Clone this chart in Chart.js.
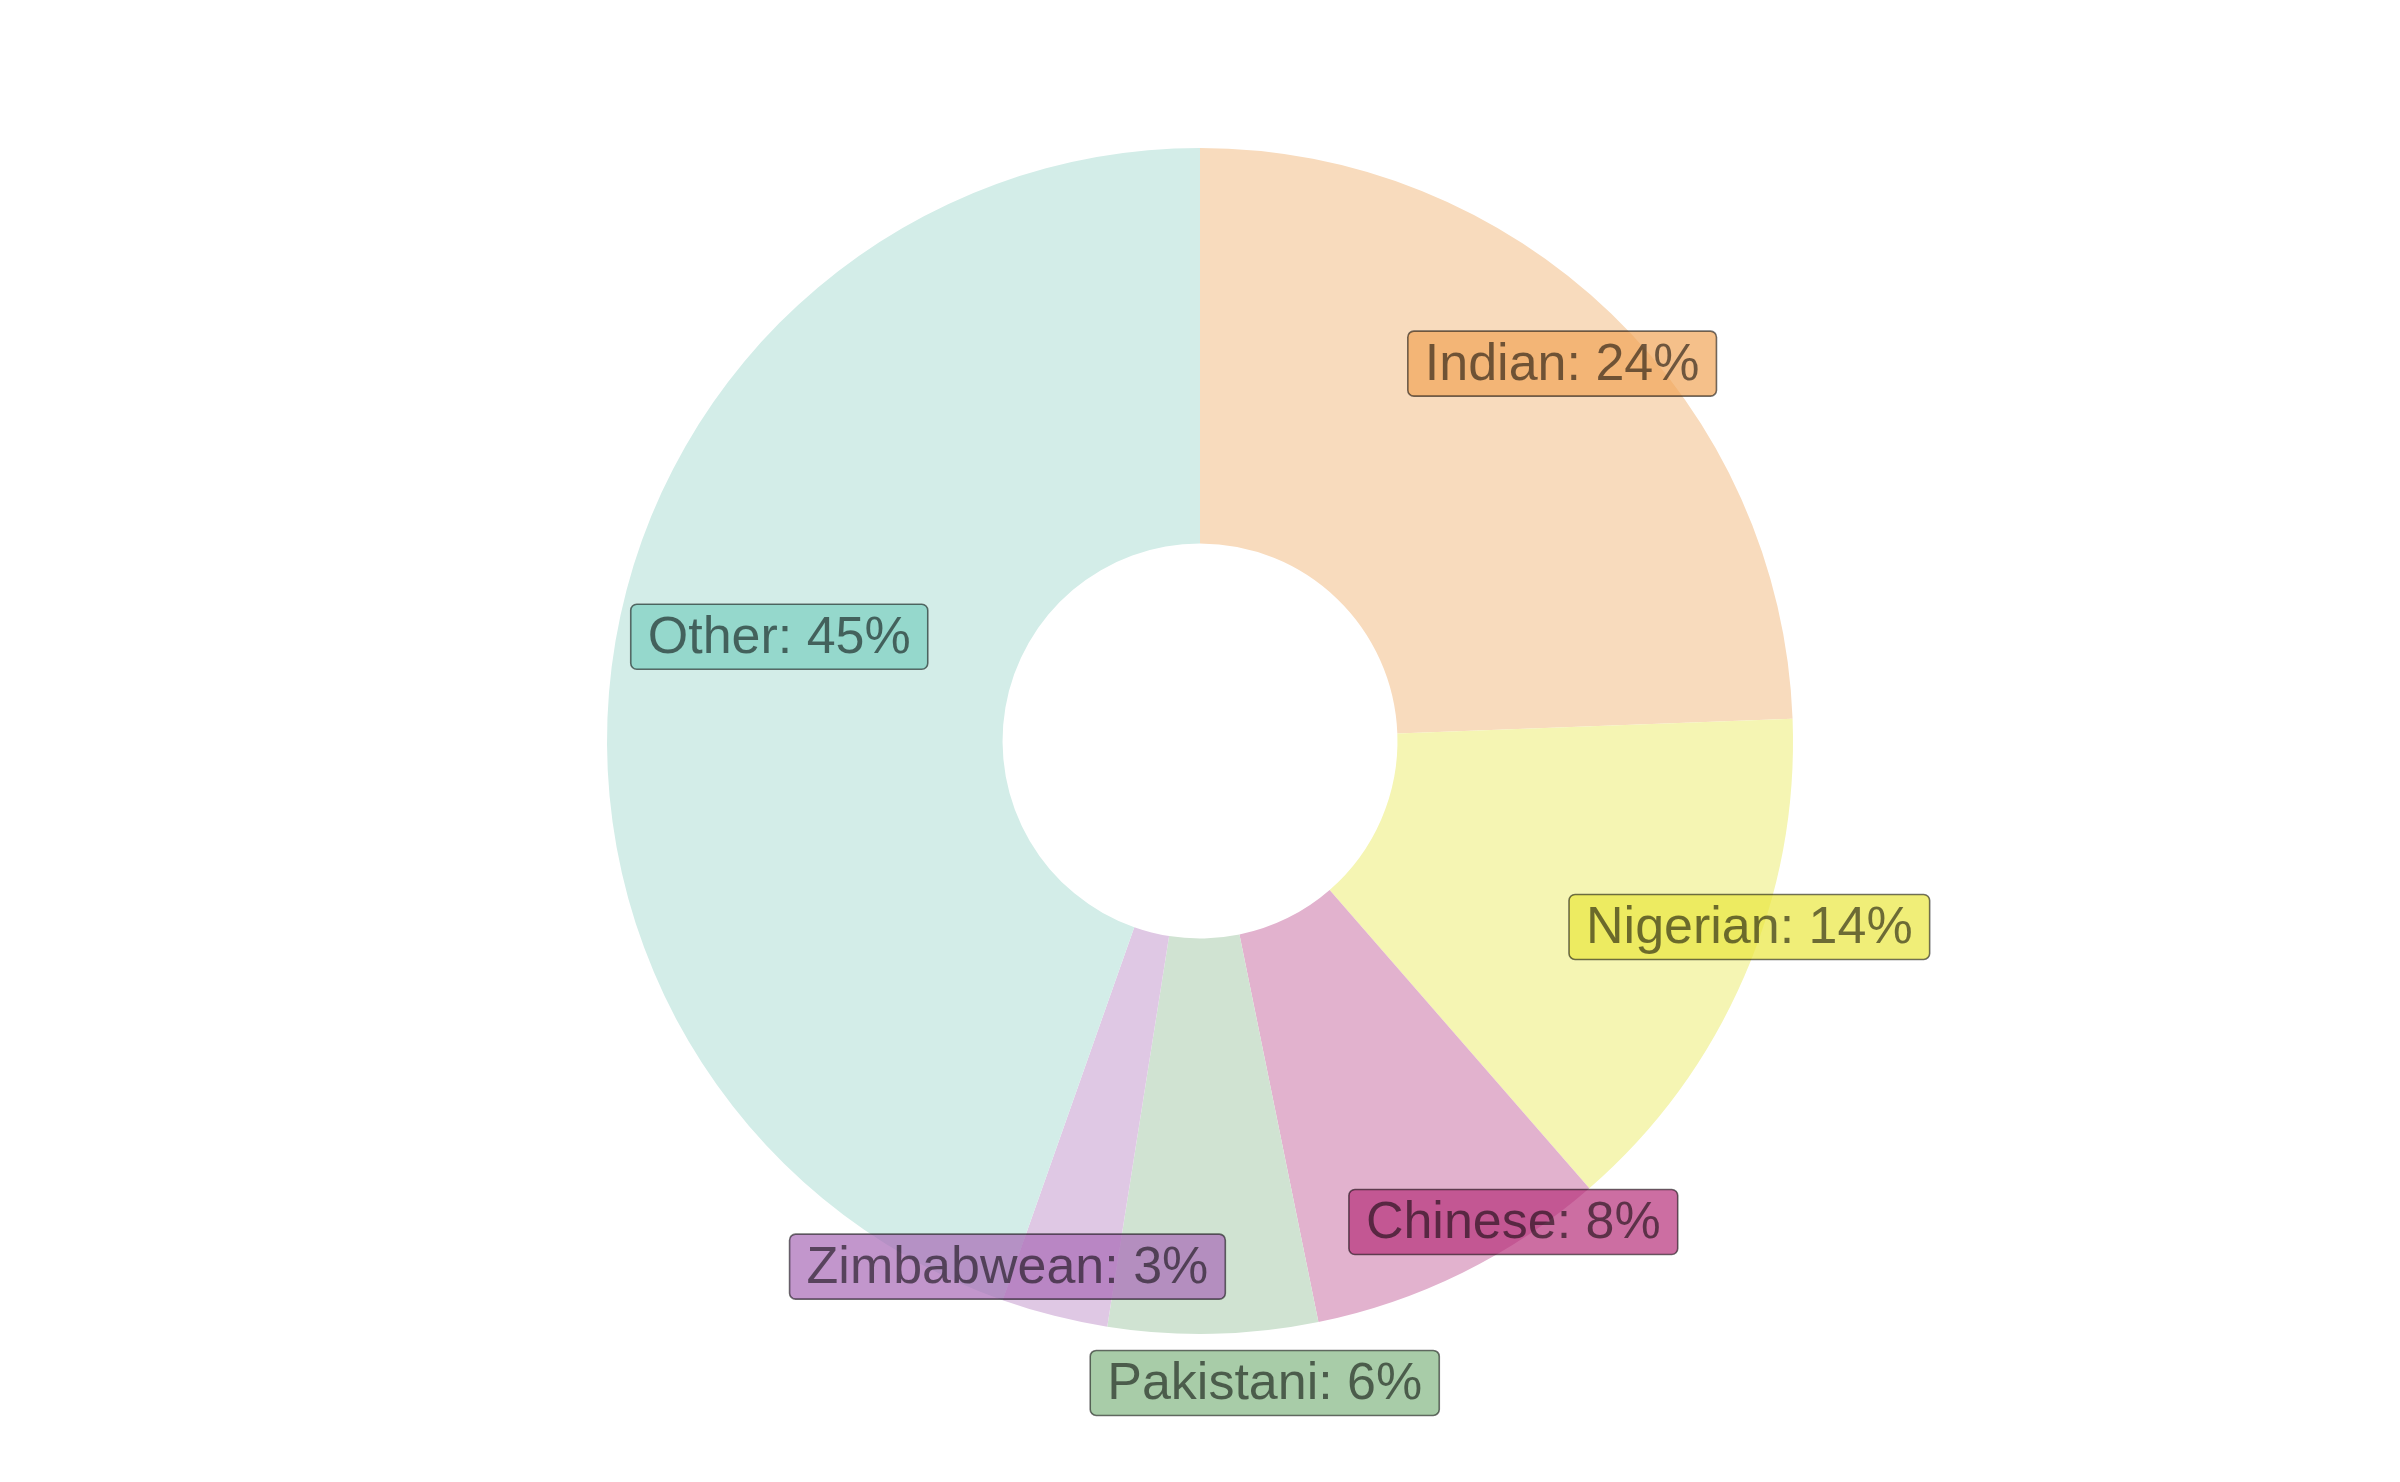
<!DOCTYPE html>
<html>
<head>
<meta charset="utf-8">
<script src="https://cdn.jsdelivr.net/npm/chart.js@4"></script>
<style>
  html, body { margin: 0; padding: 0; background: #ffffff; }
  #wrap { width: 2400px; height: 1482px; }
</style>
</head>
<body>
<div id="wrap"><canvas id="donut" width="2400" height="1482"></canvas></div>
<script>
// data (share of total, %)
const categories = ['Indian', 'Nigerian', 'Chinese', 'Pakistani', 'Zimbabwean', 'Other'];
const shares = [24.4, 14.2, 8.2, 5.7, 2.9, 44.6];

// slice fill (pale) and label box colour (stronger)
const sliceColors = ['#F8DBBD', '#F5F5B3', '#E2B2CE', '#D0E3D2', '#DFC8E4', '#D3EDE8'];
const boxColors = ['241,165,88', '234,231,62', '182,49,122', '131,182,131', '168,105,182', '122,207,193'];

// where each label sits: fraction of outer radius, and angle nudge (deg) from slice middle
const labelRadius = [0.882, 0.978, 0.968, 1.088, 0.944, 0.731];
const labelNudge = [-0.1, -4.7, -6.8, -4.5, 5.9, 4.2];

// draws the "Name: NN%" boxes on top of the slices
const boxLabels = {
  id: 'boxLabels',
  afterDatasetsDraw(chart) {
    const ctx = chart.ctx;
    const meta = chart.getDatasetMeta(0);
    const vals = chart.data.datasets[0].data;
    const total = vals.reduce((a, b) => a + b, 0);
    ctx.save();
    ctx.font = '52px "Liberation Sans", Arial, sans-serif';
    ctx.textAlign = 'center';
    ctx.textBaseline = 'middle';
    meta.data.forEach((arc, i) => {
      const p = arc.getProps(['x', 'y', 'startAngle', 'endAngle', 'outerRadius'], true);
      const mid = (p.startAngle + p.endAngle) / 2 + labelNudge[i] * Math.PI / 180;
      const r = p.outerRadius * labelRadius[i];
      const cx = p.x + Math.cos(mid) * r;
      const cy = p.y + Math.sin(mid) * r;
      const txt = chart.data.labels[i] + ': ' + Math.round(vals[i] / total * 100) + '%';
      const w = ctx.measureText(txt).width + 34;
      const h = 65;
      ctx.beginPath();
      ctx.roundRect(cx - w / 2, cy - h / 2, w, h, 6);
      ctx.fillStyle = 'rgba(' + boxColors[i] + ',0.7)';
      ctx.fill();
      ctx.lineWidth = 1.6;
      ctx.strokeStyle = 'rgba(0,0,0,0.55)';
      ctx.stroke();
      ctx.fillStyle = 'rgba(0,0,0,0.55)';
      ctx.fillText(txt, cx, cy + 2);
    });
    ctx.restore();
  }
};

new Chart(document.getElementById('donut'), {
  type: 'doughnut',
  data: {
    labels: categories,
    datasets: [{
      data: shares,
      backgroundColor: sliceColors,
      borderWidth: 0,
      radius: 593
    }]
  },
  options: {
    responsive: false,
    devicePixelRatio: 1,
    animation: false,
    cutout: '33.3%',
    plugins: {
      legend: { display: false },
      tooltip: { enabled: false }
    }
  },
  plugins: [boxLabels]
});
</script>
</body>
</html>
